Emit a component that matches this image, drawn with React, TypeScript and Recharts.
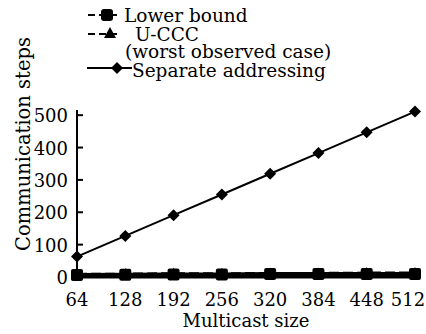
import React from 'react'
import { Line, LineChart, XAxis, YAxis, Legend } from 'recharts'

const multicastSizes = [64, 128, 192, 256, 320, 384, 448, 512]
const lowerBound = [6, 7, 8, 8, 9, 9, 9, 9]
const uccc = [8, 9, 10, 10, 11, 11, 12, 12]
const separateAddressing = [63, 127, 191, 255, 319, 383, 447, 511]
const yTicks = [0, 100, 200, 300, 400, 500]

const data = multicastSizes.map((size, i) => ({
  size,
  lower: lowerBound[i],
  uccc: uccc[i],
  separate: separateAddressing[i],
}))

const FONT = 'DejaVu Serif'
const textStyle = { fontFamily: FONT, fontSize: 18, fill: '#000' }

const SquareDot = ({ cx, cy }: any) => (
  <rect x={ cx - 6 } y={ cy - 6 } width={ 12 } height={ 12 } rx={ 2 } fill="#000"/>
)

const TriangleDot = ({ cx, cy }: any) => (
  <path d={ `M${ cx },${ cy - 6 }L${ cx + 6 },${ cy + 5 }L${ cx - 6 },${ cy + 5 }Z` } fill="#000"/>
)

const DiamondDot = ({ cx, cy }: any) => (
  <path d={ `M${ cx },${ cy - 6 }L${ cx + 6 },${ cy }L${ cx },${ cy + 6 }L${ cx - 6 },${ cy }Z` } fill="#000"/>
)

// keep the last label inside the picture, as in the original
const XTick = ({ x, y, payload }: any) => (
  <text x={ Math.min(x, 408) } y={ y } dy={ 14 } textAnchor="middle" style={ textStyle }>{ payload.value }</text>
)

const YTick = ({ x, y, payload }: any) => (
  <text x={ x } y={ y } dy={ 7 } textAnchor="end" style={ textStyle }>{ payload.value }</text>
)

const LegendBox = () => (
  <svg width={ 260 } height={ 85 } style={ { display: 'block' } }>
    <g stroke="#000" strokeWidth={ 2 }>
      <line x1={ 3 } x2={ 33 } y1={ 15 } y2={ 15 } strokeDasharray="7 4"/>
      <line x1={ 3 } x2={ 32 } y1={ 34 } y2={ 34 } strokeDasharray="7 4"/>
      <line x1={ 2 } x2={ 47 } y1={ 68 } y2={ 68 }/>
    </g>
    <rect x={ 16 } y={ 9 } width={ 12 } height={ 12 } rx={ 3 } fill="#000"/>
    <path d="M25,27L31,38L19,38Z" fill="#000"/>
    <path d="M32,62L38,68L32,74L26,68Z" fill="#000"/>
    <g style={ { ...textStyle, fontSize: 18.5 } }>
      <text x={ 39 } y={ 22 }>Lower bound</text>
      <text x={ 50 } y={ 41 }>U-CCC</text>
      <text x={ 40 } y={ 58 }>(worst observed case)</text>
      <text x={ 47 } y={ 77 }>Separate addressing</text>
    </g>
  </svg>
)

const YLabel = () => (
  <text x={ 23 } y={ 144 } transform="rotate(-90 23 144)" textAnchor="middle" dominantBaseline="central"
        style={ { ...textStyle, fontSize: 19.5 } }>
    Communication steps
  </text>
)

const XLabel = ({ viewBox }: any) => (
  <text x={ viewBox.x + viewBox.width / 2 } y={ 327 } textAnchor="middle" style={ textStyle }>
    Multicast size
  </text>
)

export default function App() {
  return (
    <div style={ { position: 'absolute', left: 0, top: 0, background: '#fff' } }>
      <LineChart width={ 426 } height={ 334 } data={ data } margin={ { top: 25, right: 11, left: 0, bottom: 0 } }>
        <XAxis
          dataKey="size"
          type="number"
          domain={ [64, 512] }
          ticks={ multicastSizes }
          height={ 57 }
          tickSize={ -6 }
          tickMargin={ 21 }
          tick={ <XTick/> }
          axisLine={ { stroke: '#000', strokeWidth: 3 } }
          tickLine={ { stroke: '#000', strokeWidth: 2 } }
          label={ <XLabel/> }
        />
        <YAxis
          yAxisId="left"
          type="number"
          domain={ [0, 516] }
          ticks={ yTicks }
          width={ 77 }
          tickSize={ -6 }
          tickMargin={ 15 }
          tick={ <YTick/> }
          axisLine={ { stroke: '#000', strokeWidth: 2 } }
          tickLine={ { stroke: '#000', strokeWidth: 2 } }
          label={ <YLabel/> }
        />
        <YAxis
          yAxisId="right"
          orientation="right"
          type="number"
          domain={ [0, 516] }
          ticks={ yTicks }
          width={ 0 }
          tickSize={ -6 }
          tick={ false }
          axisLine={ { stroke: '#000', strokeWidth: 2 } }
          tickLine={ { stroke: '#000', strokeWidth: 2 } }
        />
        <Legend
          verticalAlign="top"
          align="left"
          content={ <LegendBox/> }
          wrapperStyle={ { position: 'absolute', top: 0, left: 85, width: 260 } }
        />
        <Line yAxisId="left" dataKey="uccc" stroke="#000" strokeWidth={ 3 } strokeDasharray="10 4"
              dot={ <TriangleDot/> } isAnimationActive={ false }/>
        <Line yAxisId="left" dataKey="lower" stroke="#000" strokeWidth={ 4 }
              dot={ <SquareDot/> } isAnimationActive={ false }/>
        <Line yAxisId="left" dataKey="separate" stroke="#000" strokeWidth={ 2 }
              dot={ <DiamondDot/> } isAnimationActive={ false }/>
      </LineChart>
    </div>
  )
}
